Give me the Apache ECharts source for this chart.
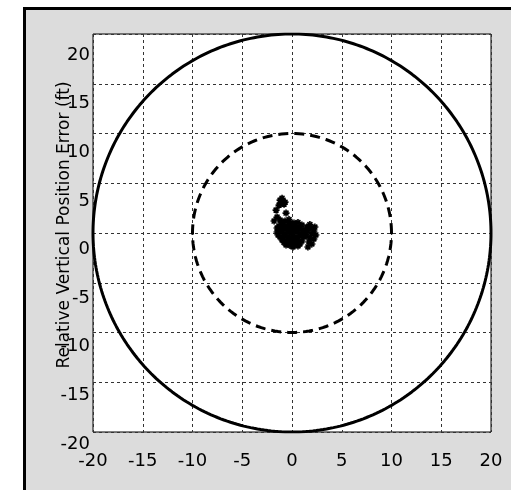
<!DOCTYPE html>
<html>
<head>
<meta charset="utf-8">
<script src="https://cdn.jsdelivr.net/npm/echarts@6/dist/echarts.min.js"></script>
<style>
  html, body { margin: 0; padding: 0; background: #ffffff; }
  #chart { width: 511px; height: 490px; }
</style>
</head>
<body>
<div id="chart"></div>
<script>
// Axis extents and tick spacing (ft)
const axisMin = -20;
const axisMax = 20;
const tickStep = 5;

// Reference rings (ft)
const outerRadius = 20;
const innerRadius = 10;

// Relative position error samples [horizontal, vertical] (ft)
const errorSamples = [
  // upper stray group
  [-1.1, 3.0], [-0.9, 3.2], [-1.2, 3.3], [-0.8, 2.9], [-1.3, 2.8], [-1.0, 3.5], [-0.7, 3.1],
  [-1.6, 2.3], [-0.6, 2.0], [-1.8, 1.2], [-1.5, 1.6],
  // main cluster
  [-1.1, 1.1], [-0.7, 1.2], [-0.3, 1.1], [0.2, 1.0], [0.6, 1.05], [-0.9, 0.9], [-0.1, 0.85],
  [-1.3, 0.7], [-0.9, 0.6], [-0.5, 0.7], [-0.1, 0.6], [0.3, 0.7], [0.7, 0.6], [1.0, 0.8],
  [-1.2, 0.3], [-0.8, 0.4], [-0.4, 0.3], [0.0, 0.4], [0.4, 0.3], [0.8, 0.35], [1.2, 0.3],
  [-1.5, 0.1], [-1.4, -0.2], [-1.0, 0.1], [-0.7, -0.1], [-0.3, 0.1], [0.1, 0.0], [0.5, 0.1], [0.9, -0.1], [1.3, 0.0],
  [-1.5, 0.5], [-1.2, -0.4], [-0.8, -0.3], [-0.4, -0.35], [0.0, -0.3], [0.4, -0.4], [0.8, -0.3], [1.2, -0.4],
  [-1.0, -0.7], [-0.6, -0.75], [-0.2, -0.7], [0.2, -0.65], [0.6, -0.7], [1.0, -0.8],
  [-0.8, -0.95], [-0.4, -1.0], [0.0, -1.05], [0.4, -1.0], [0.8, -1.1],
  [-0.6, -1.2], [-0.2, -1.25], [0.2, -1.2], [0.6, -1.3], [0.1, -1.4], [-0.3, 1.35], [-1.2, 1.3],
  // right lobe
  [1.5, 0.6], [1.9, 0.5], [2.2, 0.2], [1.6, 0.2], [2.0, -0.1], [1.5, -0.3], [1.8, 0.85],
  [1.8, -0.5], [2.2, -0.6], [1.7, -0.9], [1.6, -1.4], [2.4, -0.2], [2.0, -1.1], [2.3, 0.6]
];

// Ring outlines sampled around the circle
function ring(radius) {
  const pts = [];
  for (let i = 0; i <= 360; i++) {
    const a = i * Math.PI / 180;
    pts.push([radius * Math.cos(a), radius * Math.sin(a)]);
  }
  return pts;
}

const asterisk = 'path://M5 0L5 10M0 5L10 5M1.5 1.5L8.5 8.5M8.5 1.5L1.5 8.5';
const font = 'DejaVu Sans, Arial, sans-serif';
const fontSize = 18;

const chart = echarts.init(document.getElementById('chart'), null, { renderer: 'canvas' });

chart.setOption({
  animation: false,
  backgroundColor: '#ffffff',
  graphic: [
    { type: 'rect', z: -10, shape: { x: 23, y: 7, width: 600, height: 600 }, style: { fill: '#000000' } },
    { type: 'rect', z: -9, shape: { x: 26, y: 10, width: 600, height: 600 }, style: { fill: '#dcdcdc' } }
  ],
  grid: [
    { left: 93, top: 34, width: 398, height: 398, show: true, backgroundColor: '#ffffff',
      borderColor: '#000000', borderWidth: 1 },
    { left: 93, top: 55, width: 398, height: 389, show: false }
  ],
  xAxis: [
    {
      gridIndex: 0, type: 'value', min: axisMin, max: axisMax, interval: tickStep,
      axisLine: { show: false }, axisTick: { show: false },
      axisLabel: { color: '#000', fontFamily: font, fontSize: fontSize, margin: 20 },
      splitLine: { show: true, lineStyle: { color: '#333', width: 1, type: [3, 3] } }
    },
    { gridIndex: 1, type: 'value', min: axisMin, max: axisMax, show: false }
  ],
  yAxis: [
    {
      gridIndex: 0, type: 'value', min: axisMin, max: axisMax, interval: tickStep,
      axisLine: { show: false }, axisTick: { show: false }, axisLabel: { show: false },
      splitLine: { show: true, lineStyle: { color: '#333', width: 1, type: [3, 3] } },
      name: 'Relative Vertical Position Error (ft)',
      nameLocation: 'middle', nameGap: 20,
      nameTextStyle: { color: '#000', fontFamily: font, fontSize: 17, padding: [0, 0, 0, 16] }
    },
    {
      gridIndex: 1, type: 'value', min: axisMin, max: axisMax, interval: tickStep,
      axisLine: { show: false }, axisTick: { show: false }, splitLine: { show: false },
      axisLabel: { color: '#000', fontFamily: font, fontSize: fontSize, margin: 3 }
    }
  ],
  series: [
    {
      type: 'line', xAxisIndex: 0, yAxisIndex: 0, data: ring(outerRadius),
      showSymbol: false, smooth: false, z: 3,
      lineStyle: { color: '#000', width: 3, type: 'solid' }
    },
    {
      type: 'line', xAxisIndex: 0, yAxisIndex: 0, data: ring(innerRadius),
      showSymbol: false, smooth: false, z: 3,
      lineStyle: { color: '#000', width: 3, type: [10, 6] }
    },
    {
      type: 'scatter', xAxisIndex: 0, yAxisIndex: 0, data: errorSamples,
      symbol: asterisk, symbolSize: 7, z: 4,
      itemStyle: { color: '#000', borderColor: '#000', borderWidth: 1.6, opacity: 1 }
    }
  ]
});
</script>
</body>
</html>
